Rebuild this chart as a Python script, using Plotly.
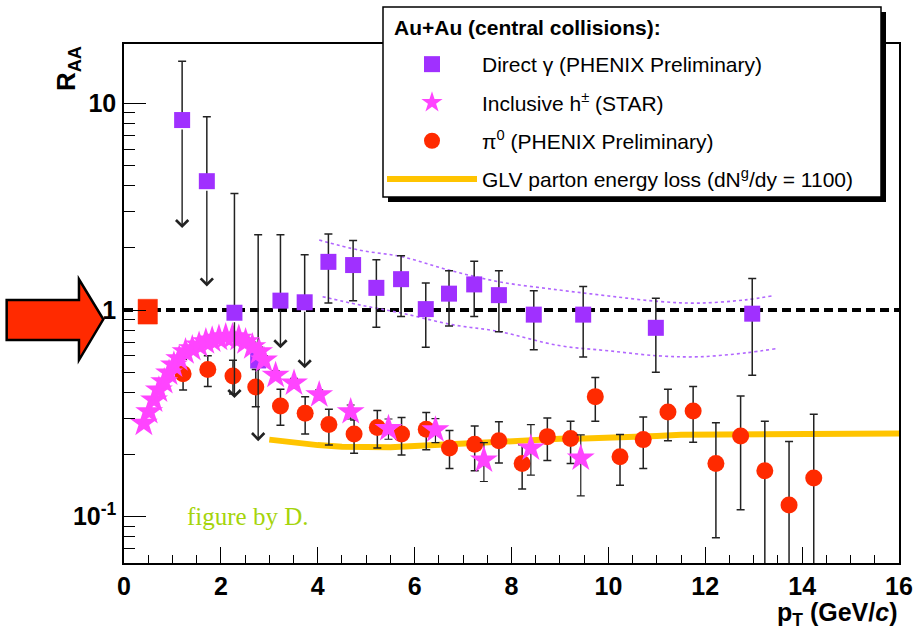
import numpy as np
import plotly.graph_objects as go

# ---------------- data ----------------
# Direct photons (PHENIX Preliminary)
gam_x = [1.2, 1.71, 2.28, 2.77, 3.23, 3.73, 4.22, 4.73, 5.21, 5.72, 6.23, 6.71, 7.23, 7.74, 8.46, 9.48, 10.98, 12.97]
gam_y = [8.3, 4.2, 0.97, 0.57, 1.11, 1.09, 1.71, 1.65, 1.28, 1.41, 1.01, 1.20, 1.33, 1.18, 0.95, 0.95, 0.82, 0.96]
gam_hi = [16.0, 8.6, 3.66, 2.31, 2.31, 1.85, 2.33, 2.17, 1.75, 1.83, 1.35, 1.55, 1.72, 1.55, 1.24, 1.30, 1.14, 1.42]
gam_lo = [2.49, 1.30, 0.375, 0.232, 0.653, 0.522, 1.08, 1.11, 0.826, 0.93, 0.66, 0.838, 0.93, 0.786, 0.642, 0.592, 0.50, 0.483]
gam_limit = [1, 1, 1, 1, 1, 1, 0, 0, 0, 0, 0, 0, 0, 0, 0, 0, 0, 0]

# Direct photon systematic band (dotted)
band_up_x = [4.03, 4.85, 5.74, 6.71, 7.74, 8.98, 10.0, 11.04, 11.87, 12.83, 13.38]
band_up_y = [2.18, 1.95, 1.81, 1.56, 1.37, 1.25, 1.17, 1.10, 1.08, 1.12, 1.17]
band_lo_x = [4.1, 4.85, 5.74, 6.77, 7.74, 8.98, 10.0, 11.04, 11.87, 12.83, 13.45]
band_lo_y = [1.16, 1.06, 0.965, 0.85, 0.787, 0.673, 0.635, 0.60, 0.594, 0.62, 0.65]

# Inclusive charged hadrons (STAR)
h_x = [0.41, 0.52, 0.62, 0.72, 0.83, 0.93, 1.03, 1.14, 1.27, 1.41, 1.55, 1.69, 1.82, 1.96, 2.10,
       2.24, 2.37, 2.51, 2.65, 2.79, 2.89, 3.13, 3.51, 4.03, 4.68, 5.46, 6.43, 7.43, 8.40, 9.43]
h_y = [0.283, 0.322, 0.367, 0.41, 0.45, 0.495, 0.542, 0.581, 0.628, 0.65, 0.676, 0.702, 0.716, 0.73, 0.743,
       0.743, 0.73, 0.702, 0.664, 0.628, 0.572, 0.483, 0.443, 0.389, 0.322, 0.267, 0.263, 0.188, 0.215, 0.192]
h_ep = [0.01, 0.01, 0.012, 0.013, 0.014, 0.016, 0.018, 0.02, 0.022, 0.024, 0.026, 0.028, 0.03, 0.032, 0.034,
        0.036, 0.038, 0.038, 0.036, 0.034, 0.03, 0.026, 0.024, 0.022, 0.025, 0.03, 0.035, 0.04, 0.064, 0.057]
h_em = [0.01, 0.01, 0.012, 0.013, 0.014, 0.016, 0.018, 0.02, 0.022, 0.024, 0.026, 0.028, 0.03, 0.032, 0.034,
        0.036, 0.038, 0.038, 0.036, 0.034, 0.03, 0.026, 0.024, 0.022, 0.025, 0.03, 0.035, 0.04, 0.056, 0.066]

# pi0 (PHENIX Preliminary)
pi_x = [1.22, 1.73, 2.25, 2.72, 3.23, 3.74, 4.23, 4.75, 5.23, 5.73, 6.24, 6.72, 7.24, 7.74, 8.22, 8.74,
        9.22, 9.73, 10.24, 10.72, 11.23, 11.75, 12.22, 12.73, 13.23, 13.73, 14.24]
pi_y = [0.491, 0.516, 0.48, 0.424, 0.343, 0.317, 0.279, 0.251, 0.270, 0.251, 0.265, 0.215, 0.224, 0.233,
        0.181, 0.244, 0.239, 0.381, 0.195, 0.236, 0.321, 0.325, 0.181, 0.246, 0.167, 0.114, 0.154]
pi_hi = [0.578, 0.60, 0.572, 0.516, 0.414, 0.38, 0.331, 0.294, 0.326, 0.302, 0.319, 0.261, 0.275, 0.288,
         0.223, 0.30, 0.29, 0.471, 0.25, 0.304, 0.414, 0.426, 0.285, 0.384, 0.29, 0.231, 0.313]
pi_lo = [0.41, 0.426, 0.392, 0.34, 0.277, 0.251, 0.222, 0.203, 0.215, 0.199, 0.211, 0.171, 0.167, 0.182,
         0.136, 0.187, 0.181, 0.29, 0.142, 0.171, 0.233, 0.229, 0.079, 0.108, 0.01, 0.01, 0.01]

# GLV parton energy loss calculation
glv_x = [3.0, 3.5, 4.0, 4.5, 5.0, 5.5, 6.0, 6.5, 7.0, 7.5, 8.0, 8.5, 9.0, 9.5, 10.0, 10.5, 11.0, 11.5, 12.0, 13.5, 16.0]
glv_y = [0.236, 0.227, 0.222, 0.218, 0.216, 0.217, 0.22, 0.223, 0.226, 0.229, 0.232, 0.238, 0.238, 0.239,
         0.24, 0.245, 0.246, 0.249, 0.249, 0.253, 0.253]

# R_AA = 1 reference and normalisation uncertainty box
unity_x = [0, 16]
unity_y = [1, 1]
norm_x = [0.29, 0.69]
norm_y = [0.855, 1.127]

x_ticks = [0, 2, 4, 6, 8, 10, 12, 14, 16]
y_ticks = [0.1, 1, 10]
y_ticktext = ["10<sup>-1</sup>", "1", "10"]

# ---------------- colours ----------------
C_GAM = "#a030ff"
C_H = "#ff44ff"
C_PI = "#ff2a00"
C_GLV = "#ffc400"
C_ERR = "#222222"
FONT = "Liberation Sans"

fig = go.Figure()

# dashed line at 1
fig.add_trace(go.Scatter(x=unity_x, y=unity_y, mode="lines", showlegend=False, hoverinfo="skip",
                         line=dict(color="black", width=4, dash="9px,5px")))

# normalisation box
fig.add_trace(go.Scatter(x=[norm_x[0], norm_x[1], norm_x[1], norm_x[0], norm_x[0]],
                         y=[norm_y[0], norm_y[0], norm_y[1], norm_y[1], norm_y[0]],
                         mode="lines", fill="toself", fillcolor=C_PI, line=dict(color=C_PI, width=0.5),
                         showlegend=False, hoverinfo="skip"))

# GLV
fig.add_trace(go.Scatter(x=glv_x, y=glv_y, mode="lines",
                         name="GLV parton energy loss (dN<sup>g</sup>/dy = 1100)",
                         line=dict(color=C_GLV, width=6), legendrank=4, legendgroup="d"))

# photon band
fig.add_trace(go.Scatter(x=band_up_x, y=band_up_y, mode="lines", showlegend=False, hoverinfo="skip",
                         line=dict(color="#b266ff", width=1.6, dash="dot", shape="spline")))
fig.add_trace(go.Scatter(x=band_lo_x, y=band_lo_y, mode="lines", showlegend=False, hoverinfo="skip",
                         line=dict(color="#b266ff", width=1.6, dash="dot", shape="spline")))

# direct photons
g_plus = [hi - y for hi, y in zip(gam_hi, gam_y)]
g_minus = [0 if lim else y - lo for y, lo, lim in zip(gam_y, gam_lo, gam_limit)]
fig.add_trace(go.Scatter(x=gam_x, y=gam_y, mode="markers", name="Direct \u03b3 (PHENIX Preliminary)",
                         marker=dict(symbol="square", size=16, color=C_GAM),
                         error_y=dict(type="data", symmetric=False, array=g_plus, arrayminus=g_minus,
                                      color=C_ERR, thickness=1.5, width=4),
                         legendrank=1, legendgroup="a"))

# pi0
fig.add_trace(go.Scatter(x=pi_x, y=pi_y, mode="markers", name="\u03c0<sup>0</sup> (PHENIX Preliminary)",
                         marker=dict(symbol="circle", size=17, color=C_PI),
                         error_y=dict(type="data", symmetric=False,
                                      array=[hi - y for hi, y in zip(pi_hi, pi_y)],
                                      arrayminus=[y - lo for y, lo in zip(pi_y, pi_lo)],
                                      color=C_ERR, thickness=1.5, width=4),
                         legendrank=3, legendgroup="c"))

# charged hadrons
fig.add_trace(go.Scatter(x=h_x, y=h_y, mode="markers", name="Inclusive h<sup>\u00b1</sup> (STAR)",
                         marker=dict(symbol="star", size=21, color=C_H),
                         error_y=dict(type="data", symmetric=False, array=h_ep, arrayminus=h_em,
                                      color=C_ERR, thickness=1.2, width=4),
                         legendrank=2, legendgroup="b"))

# upper-limit arrows
annotations = []
for x, y, lo, lim in zip(gam_x, gam_y, gam_lo, gam_limit):
    if lim:
        annotations.append(dict(x=x, y=np.log10(lo), ax=x, ay=np.log10(y), xref="x", yref="y",
                                axref="x", ayref="y", text="", showarrow=True, arrowhead=4,
                                arrowsize=1.7, arrowwidth=1.4, arrowcolor=C_ERR, startstandoff=8))


def px2paper_x(px):
    return (px - 124) / 775


def px2paper_y(py):
    return (563 - py) / 519


annotations += [
    dict(text="R<sub>AA</sub>", x=-0.072, y=0.952, xref="paper", yref="paper", showarrow=False,
         xanchor="center", yanchor="middle",
         textangle=-90, font=dict(family=FONT, size=26, color="black", weight="bold")),
    dict(text="p<sub>T</sub> (GeV/<i>c</i>)", x=1.0, y=px2paper_y(614), xref="paper", yref="paper",
         xanchor="right", yanchor="middle", showarrow=False,
         font=dict(family=FONT, size=25, color="black", weight="bold")),
    dict(text="figure by D.", x=0.0787, y=0.09, xref="paper", yref="paper", xanchor="left",
         yanchor="middle", showarrow=False,
         font=dict(family="Liberation Serif", size=25, color="#a5d40a")),
    # legend header
    dict(text="<b>Au+Au (central collisions):</b>", x=px2paper_x(392), y=px2paper_y(27.6),
         xref="paper", yref="paper", xanchor="left", yanchor="middle", showarrow=False,
         font=dict(family=FONT, size=21, color="black")),
]

# big red arrow outside the frame (paper coords)
arrow_path = ("M -0.1514 0.5067 L -0.0581 0.5067 L -0.0581 0.5466 L -0.0267 0.4696 "
              "L -0.0581 0.3911 L -0.0581 0.4297 L -0.1514 0.4297 Z")

shapes = [
    dict(type="path", path=arrow_path, xref="paper", yref="paper", fillcolor=C_PI,
         line=dict(color="black", width=2.5), layer="above"),
    # legend shadow
    dict(type="rect", xref="paper", yref="paper", x0=px2paper_x(388), x1=px2paper_x(886),
         y0=px2paper_y(202), y1=px2paper_y(12),
         fillcolor="black", line=dict(width=0), layer="above"),
    # legend frame
    dict(type="rect", xref="paper", yref="paper", x0=px2paper_x(383), x1=px2paper_x(881),
         y0=px2paper_y(197), y1=px2paper_y(7),
         fillcolor="white", line=dict(color="black", width=1.5), layer="above"),
]

fig.update_layout(
    width=917, height=632,
    margin=dict(l=124, r=18, t=44, b=69, autoexpand=False),
    paper_bgcolor="white", plot_bgcolor="white",
    font=dict(family=FONT, color="black"),
    showlegend=True,
    legend=dict(x=px2paper_x(382), y=px2paper_y(44), xanchor="left", yanchor="top",
                bgcolor="rgba(0,0,0,0)", borderwidth=0, itemwidth=90, tracegroupgap=8,
                traceorder="grouped",
                font=dict(family=FONT, size=21, color="black")),
    annotations=annotations,
    shapes=shapes,
    xaxis=dict(range=[0, 16], showgrid=False, zeroline=False, showline=True, linecolor="black",
               linewidth=1.5, mirror=True, ticks="inside", ticklen=16, tickwidth=1.3, tickcolor="black",
               tickvals=x_ticks, ticktext=[str(v) for v in x_ticks],
               minor=dict(tickvals=[v / 2 for v in range(33)], ticks="inside", ticklen=8,
                          tickwidth=1.1, tickcolor="black", showgrid=False),
               tickfont=dict(family=FONT, size=25, color="black", weight="bold")),
    yaxis=dict(type="log", range=[-1.224, 1.287], showgrid=False, zeroline=False, showline=True,
               linecolor="black", linewidth=1.5, mirror=True, ticks="inside", ticklen=22,
               tickwidth=1.3, tickcolor="black", tickvals=y_ticks, ticktext=y_ticktext,
               ticklabelstandoff=1,
               minor=dict(tickvals=[0.07, 0.08, 0.09, 0.2, 0.3, 0.4, 0.5, 0.6, 0.7, 0.8, 0.9,
                                    2, 3, 4, 5, 6, 7, 8, 9], ticks="inside", ticklen=11,
                          tickwidth=1.1, tickcolor="black", showgrid=False),
               tickfont=dict(family=FONT, size=25, color="black", weight="bold")),
)

fig.write_html("out.html")
